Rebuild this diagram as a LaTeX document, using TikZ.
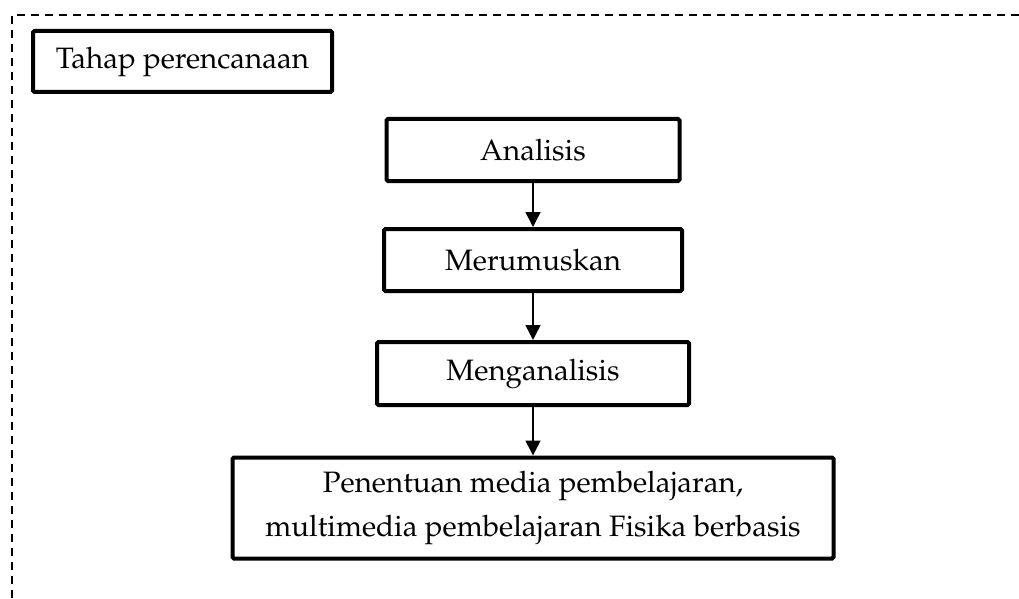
\documentclass[tikz,border=0pt]{standalone}
\usepackage[T1]{fontenc}
\usepackage{mathpazo}
\usetikzlibrary{arrows.meta}
\tikzset{
  stepbox/.style={draw=black, line width=4pt, rounded corners=1.5pt, inner sep=0pt,
    align=center, font=\fontsize{29.5}{44}\selectfont},
  flowarrow/.style={line width=1.5pt, -{Triangle[length=15pt,width=15pt]}},
  frame/.style={line width=1.5pt, dash pattern=on 8pt off 6pt}
}
\begin{document}
\begin{tikzpicture}[x=1pt,y=-1pt]
\useasboundingbox (0,0) rectangle (1019,599);
\draw[frame] (12,640) -- (12,15) -- (1040,15);
\node[stepbox, minimum width=299pt, minimum height=61pt] (tahap) at (182.5,61.5) {Tahap perencanaan};
\node[stepbox, minimum width=293pt, minimum height=62pt] (analisis) at (533,150) {Analisis};
\node[stepbox, minimum width=298pt, minimum height=62pt] (merumuskan) at (533,260) {Merumuskan};
\node[stepbox, minimum width=312pt, minimum height=63pt] (menganalisis) at (533,373.5) {Menganalisis};
\node[stepbox, minimum width=601pt, minimum height=101pt] (penentuan) at (533,508) {Penentuan media pembelajaran,\\multimedia pembelajaran Fisika berbasis};
\draw[flowarrow] (analisis.south) -- (merumuskan.north);
\draw[flowarrow] (merumuskan.south) -- (menganalisis.north);
\draw[flowarrow] (menganalisis.south) -- (penentuan.north);
\end{tikzpicture}
\end{document}
